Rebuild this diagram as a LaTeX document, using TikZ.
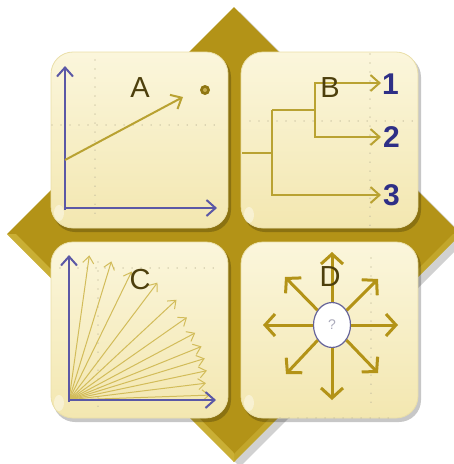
\documentclass[tikz,border=0pt]{standalone}
\usepackage{fontspec}
\setmainfont{Liberation Sans}
\usetikzlibrary{arrows.meta,shapes.geometric,calc}
\definecolor{gold}{HTML}{B39317}
\definecolor{goldlight}{HTML}{E6D25A}
\definecolor{axisblue}{HTML}{5B58A6}
\definecolor{numblue}{HTML}{2E2F86}
\definecolor{lblcol}{HTML}{4D3F0C}
\definecolor{linegold}{HTML}{B9A232}
\definecolor{fangold}{HTML}{D2BC5A}
\definecolor{panelhi}{HTML}{FBF6DC}
\definecolor{panello}{HTML}{F3E7B0}
\definecolor{panelrim}{HTML}{EADFA8}
\definecolor{dotcol}{HTML}{C9C2A2}
\begin{document}
\begin{tikzpicture}[x=1pt,y=-1pt,
  panel/.style={rounded corners=22pt, minimum width=177pt, minimum height=176pt, inner sep=0pt,
    top color=panelhi, bottom color=panello, draw=panelrim, line width=0.8pt},
  pshadow/.style={fill=black, opacity=0.22, rounded corners=22pt},
  lbl/.style={font=\fontsize{29}{30}\selectfont, text=lblcol, inner sep=0pt},
  num/.style={font=\fontsize{30}{30}\selectfont\bfseries, text=numblue, inner sep=0pt, anchor=west},
  axis/.style={draw=axisblue, line width=2pt, -{Straight Barb[length=9pt,width=16pt,line width=2pt]}},
  garrow/.style={draw=linegold, line width=2pt, -{Straight Barb[length=9pt,width=16pt,line width=2pt]}},
  tree/.style={draw=linegold, line width=2pt},
  fan/.style={draw=fangold, line width=1pt, -{Straight Barb[length=7pt,width=11pt,line width=1pt]}},
  darrow/.style={draw=gold, line width=3pt, -{Straight Barb[length=10pt,width=22pt,line width=3pt]}},
  griddots/.style={draw=dotcol, line width=1.2pt, line cap=round, dash pattern=on 0.01pt off 9pt},
  glare/.style={fill=white, opacity=0.4}
]
\useasboundingbox (0,0) rectangle (454,464);
% diamond
\coordinate (dT) at (234,7);
\coordinate (dR) at (461,234);
\coordinate (dB) at (234,462);
\coordinate (dL) at (7,234);
\fill[black,opacity=0.18] ($(dT)+(6,5)$) -- ($(dR)+(6,5)$) -- ($(dB)+(6,5)$) -- ($(dL)+(6,5)$) -- cycle;
\fill[gold] (dT) -- (dR) -- (dB) -- (dL) -- cycle;
\fill[goldlight,opacity=0.45] (dL) -- (dB) -- ($(dB)+(0,-9)$) -- ($(dL)+(9,0)$) -- cycle;
\fill[goldlight,opacity=0.3] (dB) -- (dR) -- ($(dR)+(-8,0)$) -- ($(dB)+(0,-8)$) -- cycle;
% panel shadows
\fill[pshadow] (53,55) rectangle (231,232);
\fill[pshadow] (243,55) rectangle (421,232);
\fill[pshadow] (53,245) rectangle (231,422);
\fill[pshadow] (243,245) rectangle (421,422);
% panels
\node[panel] (pA) at (139.5,140) {};
\node[panel] (pB) at (329.5,140) {};
\node[panel] (pC) at (139.5,330) {};
\node[panel] (pD) at (329.5,330) {};
% glare
\fill[glare] (59,213) ellipse (5 and 8);
\fill[glare] (249,215) ellipse (5 and 8);
\fill[glare] (59,403) ellipse (5 and 8);
\fill[glare] (249,403) ellipse (5 and 8);
% grid dots
\draw[griddots] (95,60) -- (95,222);
\draw[griddots] (52,125) -- (216,125);
\draw[griddots] (250,121) -- (416,121);
\draw[griddots] (370,54) -- (370,226);
\draw[griddots] (60,268) -- (216,268);
\draw[griddots] (98,262) -- (98,412);
\draw[griddots] (371,258) -- (371,404);
\draw[griddots] (280,418) -- (390,418);
% ---------- panel A
\coordinate (aO) at (65,208);
\coordinate (aY) at (65,66);
\coordinate (aX) at (217,208);
\coordinate (aS) at (65,160);
\coordinate (aT) at (183,97);
\draw[axis] ($(aO)+(0,2)$) -- (aY);
\draw[axis] ($(aO)+(-1,0)$) -- (aX);
\draw[garrow] (aS) -- (aT);
\node[circle, fill=gold!80!black, minimum size=10pt, inner sep=0pt] (aDot) at (205,90) {};
\node[circle, fill=gold!75!white, minimum size=4pt, inner sep=0pt] (aDotIn) at (205,90) {};
\node[lbl] (lA) at (140,88) {A};
% ---------- panel B
\coordinate (bS) at (242,153);
\coordinate (bJ) at (272,153);
\coordinate (bU) at (272,110);
\coordinate (bL) at (272,195);
\coordinate (bK) at (315,110);
\coordinate (bK1) at (315,83);
\coordinate (bK2) at (315,137);
\coordinate (b1) at (381,83);
\coordinate (b2) at (381,137);
\coordinate (b3) at (381,195);
\draw[tree] (bS) -- (bJ);
\draw[tree] (bU) -- (bL);
\draw[tree] (bU) -- (bK);
\draw[tree] (bK1) -- (bK2);
\draw[garrow] ($(bK1)+(-1,0)$) -- (b1);
\draw[garrow] ($(bK2)+(-1,0)$) -- (b2);
\draw[garrow] ($(bL)+(-1,0)$) -- (b3);
\node[lbl] (lB) at (330,88) {B};
\node[num] (n1) at (382,84) {1};
\node[num] (n2) at (383,137) {2};
\node[num] (n3) at (383,195) {3};
% ---------- panel C
\coordinate (cO) at (69,400);
\foreach \a/\r [count=\i] in {82/146,73/145,64/143,53/147,43/147,35/144,28/143,22/143,17/142,12/141,7/138,2/141}{
  \coordinate (cT\i) at ({69+\r*cos(\a)},{400-\r*sin(\a)});
  \draw[fan] (cO) -- (cT\i);
}
\coordinate (cY) at (69,255);
\coordinate (cX) at (216,400);
\draw[axis] ($(cO)+(0,2)$) -- (cY);
\draw[axis] ($(cO)+(-1,0)$) -- (cX);
\node[lbl] (lC) at (140,280) {C};
% ---------- panel D
\node[ellipse, draw=axisblue!70!gray, line width=1.2pt, fill=white, minimum width=37pt, minimum height=45pt, inner sep=0pt,
  font=\fontsize{14}{14}\selectfont, text=axisblue!35!gray!60!white] (q) at (332,325) {?};
\coordinate (dU) at (332,252);
\coordinate (dDn) at (332,400);
\coordinate (dLf) at (263,325);
\coordinate (dRt) at (398,325);
\coordinate (dUL) at (285,277);
\coordinate (dUR) at (378,279);
\coordinate (dDL) at (286,374);
\coordinate (dDR) at (378,373);
\foreach \t in {dU,dDn,dLf,dRt,dUL,dUR,dDL,dDR}{
  \draw[darrow] (q) -- (\t);
}
\node[lbl] (lD) at (330,277) {D};
\end{tikzpicture}
\end{document}
